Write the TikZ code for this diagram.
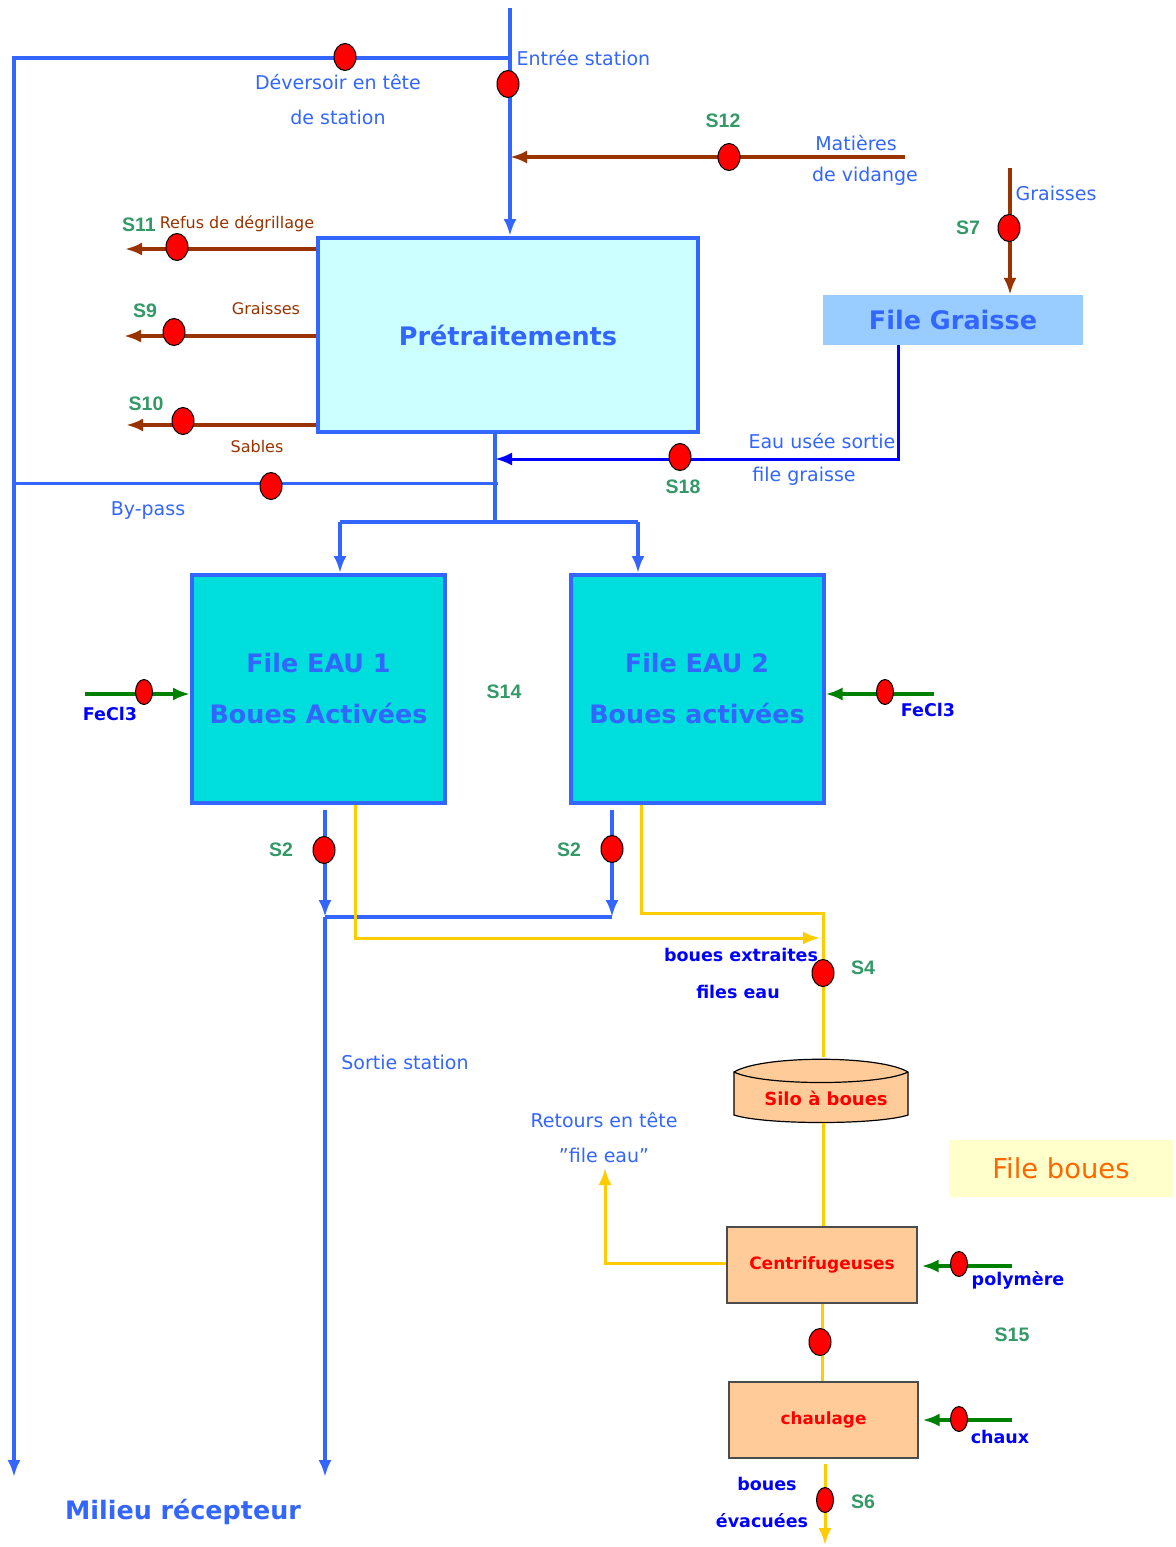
\documentclass[tikz,border=0pt]{standalone}
\usepackage{fontspec}
\setmainfont{DejaVu Sans}
\newfontfamily\slabfont{Liberation Sans}
\usetikzlibrary{arrows.meta,shapes.geometric}
\definecolor{cblue}{HTML}{3366FF}
\definecolor{dblue}{HTML}{0000FF}
\definecolor{cbrown}{HTML}{993300}
\definecolor{cgreen}{HTML}{008000}
\definecolor{sgreen}{HTML}{339966}
\definecolor{cyel}{HTML}{FFCC00}
\definecolor{lcyan}{HTML}{CCFFFF}
\definecolor{ccyan}{HTML}{00DDDD}
\definecolor{lblue}{HTML}{99CCFF}
\definecolor{peach}{HTML}{FFCC99}
\definecolor{lyel}{HTML}{FFFFCC}
\definecolor{corange}{HTML}{FF6600}
\newcommand\fsz[1]{\fontsize{#1}{#1}\selectfont}
\tikzset{
  arr/.style={-{Latex[length=17pt,width=13pt]}},
  bline/.style={draw=cblue,line width=3.5pt},
  dbline/.style={draw=dblue,line width=3pt},
  brline/.style={draw=cbrown,line width=4pt},
  grline/.style={draw=cgreen,line width=4pt},
  yline/.style={draw=cyel,line width=3pt},
  dot/.style={ellipse,fill=red,draw=black,line width=1pt,minimum width=22pt,minimum height=27pt,inner sep=0pt},
  ndot/.style={dot,minimum width=17pt,minimum height=25pt},
  slab/.style={text=sgreen,font=\slabfont\bfseries\fsz{19.5}},
  lab/.style={text=cblue,font=\fsz{19}},
  brlab/.style={text=cbrown,font=\fsz{16}},
  dlab/.style={text=dblue,font=\bfseries\fsz{17.5}},
  eaubox/.style={draw=cblue,line width=4pt,fill=ccyan,minimum width=253pt,minimum height=228pt,inner sep=0pt,text=cblue,align=center,font=\bfseries\fontsize{25.4}{51}\selectfont},
  sbox/.style={draw=black!70,line width=1.2pt,fill=peach,minimum width=190pt,minimum height=76pt,inner sep=0pt,text=red,font=\bfseries\fsz{17}}
}
\begin{document}
\begin{tikzpicture}[x=1pt,y=-1pt]
\useasboundingbox[fill=white] (0,0) rectangle (1175,1547);

% ---- main boxes
\node[draw=cblue,line width=4pt,fill=lcyan,minimum width=380pt,minimum height=194pt,inner sep=0pt,text=cblue,font=\bfseries\fsz{25.5}] (pre) at (508,335) {Prétraitements};
\node[fill=lblue,minimum width=260pt,minimum height=50pt,inner sep=0pt,text=cblue,font=\bfseries\fsz{25.5}] (fg) at (953,320) {File Graisse};
\node[eaubox] (eau1) at (318.5,689) {File EAU 1\\Boues Activées};
\node[eaubox] (eau2) at (697,689) {File EAU 2\\Boues activées};

% silo (cylinder drawn by hand)
\draw[fill=peach,draw=black,line width=1.2pt] (734,1072) -- (734,1115) .. controls (765,1125) and (877,1125) .. (908,1115) -- (908,1072) .. controls (880,1055) and (762,1055) .. cycle;
\draw[black,line width=1.2pt] (734,1072) .. controls (762,1086) and (880,1086) .. (908,1072);
\node[minimum width=174pt,minimum height=66pt,inner sep=0pt] (silo) at (821,1090) {};
\node[text=red,font=\bfseries\fsz{18}] (silot) at (826,1098) {Silo à boues};

\node[sbox] (centri) at (822,1265) {Centrifugeuses};
\node[sbox,minimum width=189pt,font=\bfseries\fsz{16.8}] (chaul) at (823.5,1420) {chaulage};
\node[fill=lyel,minimum width=224pt,minimum height=57pt,inner sep=0pt,text=corange,font=\fsz{27.4}] (fboues) at (1061,1168) {File boues};

% ---- coordinates
\coordinate (top) at (510,8);
\coordinate (tl) at (14,58);
\coordinate (milL) at (14,1477);
\coordinate (mvS) at (905,157);
\coordinate (grS) at (1010,168);
\coordinate (s11e) at (125,249);
\coordinate (s9e) at (124,336);
\coordinate (s10e) at (126,425);
\coordinate (jn) at (495,522);
\coordinate (b1) at (340,522);
\coordinate (b2) at (638,522);
\coordinate (s18c) at (898,459);
\coordinate (bpS) at (498,483);
\coordinate (fe1) at (85,694);
\coordinate (fe2) at (934,694);
\coordinate (o1) at (325,810);
\coordinate (o2) at (612,810);
\coordinate (jn2) at (325,917);
\coordinate (sortie) at (325,1477);
\coordinate (y1) at (355,938);
\coordinate (y1e) at (820,938);
\coordinate (y2) at (641,913);
\coordinate (y2b) at (823,913);
\coordinate (rt) at (605,1263);
\coordinate (rtE) at (605,1168);
\coordinate (pol) at (1012,1266);
\coordinate (chx) at (1012,1420);
\coordinate (ev) at (825,1545);

% ---- blue water lines
\draw[bline,arr] (top) -- (top |- pre.north);
\draw[bline,arr] (top |- tl) -- (tl) -- (milL);
\draw[bline] (jn |- pre.south) -- (jn);
\draw[bline] (b1) -- (b2);
\draw[bline,arr] (b1) -- (b1 |- eau1.north);
\draw[bline,arr] (b2) -- (b2 |- eau2.north);
\draw[dbline,arr] (s18c |- fg.south) -- (s18c) -- (jn |- s18c);
\draw[bline,line width=3pt] (bpS) -- (milL |- bpS);
\draw[bline,arr] (o1) -- (jn2);
\draw[bline,arr] (o2) -- (o2 |- jn2);
\draw[bline] (jn2) -- (o2 |- jn2);
\draw[bline,arr] (jn2) -- (sortie);

% ---- brown lines
\draw[brline,arr] (mvS) -- (top |- mvS);
\draw[brline,arr] (grS) -- (grS |- fg.north);
\draw[brline,arr] (pre.west |- s11e) -- (s11e);
\draw[brline,arr] (pre.west |- s9e) -- (s9e);
\draw[brline,arr] (pre.west |- s10e) -- (s10e);

% ---- green reagent lines
\draw[grline,arr] (fe1) -- (eau1.west |- fe1);
\draw[grline,arr] (fe2) -- (eau2.east |- fe2);
\draw[grline,arr,shorten >=4pt] (pol) -- (centri.east |- pol);
\draw[grline,arr,shorten >=4pt] (chx) -- (chaul.east |- chx);

% ---- yellow sludge lines
\draw[yline,arr] (y1 |- eau1.south) -- (y1) -- (y1e);
\draw[yline] (y2 |- eau2.south) -- (y2) -- (y2b) -- (y2b |- silo.north);
\draw[yline] (y2b |- silo.south) -- (y2b |- centri.north);
\draw[yline,arr] (centri.west |- rt) -- (rt) -- (rtE);
\draw[yline] (centri.south) -- (centri.south |- chaul.north);
\draw[yline,arr,shorten <=5pt] (ev |- chaul.south) -- (ev);

% ---- sampling points
\node[dot] (d1) at (345,57) {};
\node[dot] (d2) at (508,84) {};
\node[dot] (d3) at (729,157) {};
\node[dot] (d4) at (1009,228) {};
\node[dot] (d5) at (177,247) {};
\node[dot] (d6) at (174,332) {};
\node[dot] (d7) at (183,421) {};
\node[dot] (d8) at (680,457) {};
\node[dot] (d9) at (271,486) {};
\node[ndot] (d10) at (144,692) {};
\node[ndot] (d11) at (885,692) {};
\node[dot] (d12) at (324,850) {};
\node[dot] (d13) at (612,849) {};
\node[dot] (d14) at (823,973) {};
\node[ndot] (d15) at (959,1264) {};
\node[dot] (d16) at (820,1342) {};
\node[ndot] (d17) at (959,1419) {};
\node[ndot] (d18) at (825,1500) {};

% ---- S labels
\node[slab] (lS12) at (723,121) {S12};
\node[slab] (lS7) at (968,228) {S7};
\node[slab] (lS11) at (139,225) {S11};
\node[slab] (lS9) at (145,311) {S9};
\node[slab] (lS10) at (146,404) {S10};
\node[slab] (lS18) at (683,487) {S18};
\node[slab] (lS14) at (504,692) {S14};
\node[slab] (lS2a) at (281,850) {S2};
\node[slab] (lS2b) at (569,850) {S2};
\node[slab] (lS4) at (863,968) {S4};
\node[slab] (lS15) at (1012,1335) {S15};
\node[slab] (lS6) at (863,1502) {S6};

% ---- blue labels
\node[lab,anchor=west] (lEntree) at (513,58) {Entrée station};
\node[lab] (lDev1) at (338,82) {Déversoir en tête};
\node[lab] (lDev2) at (338,117) {de station};
\node[lab] (lMat1) at (856,143) {Matières};
\node[lab] (lMat2) at (865,176) {de vidange};
\node[lab] (lGr) at (1056,193) {Graisses};
\node[lab] (lEau1) at (822,441) {Eau usée sortie};
\node[lab] (lEau2) at (804,476) {file graisse};
\node[lab] (lBy) at (148,511) {By-pass};
\node[lab] (lSortie) at (405,1062) {Sortie station};
\node[lab] (lRet1) at (604,1120) {Retours en tête};
\node[lab] (lRet2) at (604,1155) {\symbol{34}file eau\symbol{34}};

% ---- brown labels
\node[brlab] (lRefus) at (237,224) {Refus de dégrillage};
\node[brlab] (lGr2) at (266,309) {Graisses};
\node[brlab] (lSab) at (257,447) {Sables};

% ---- dark blue labels
\node[dlab] (lFe1) at (110,714) {FeCl3};
\node[dlab] (lFe2) at (928,710) {FeCl3};
\node[dlab] (lBe1) at (741,955) {boues extraites};
\node[dlab] (lBe2) at (738,992) {files eau};
\node[dlab] (lPoly) at (1018,1280) {polymère};
\node[dlab] (lChaux) at (1000,1437) {chaux};
\node[dlab] (lEv1) at (767,1484) {boues};
\node[dlab] (lEv2) at (762,1521) {évacuées};

\node[text=cblue,font=\bfseries\fsz{25.4}] (lMil) at (183,1512) {Milieu récepteur};
\end{tikzpicture}
\end{document}
